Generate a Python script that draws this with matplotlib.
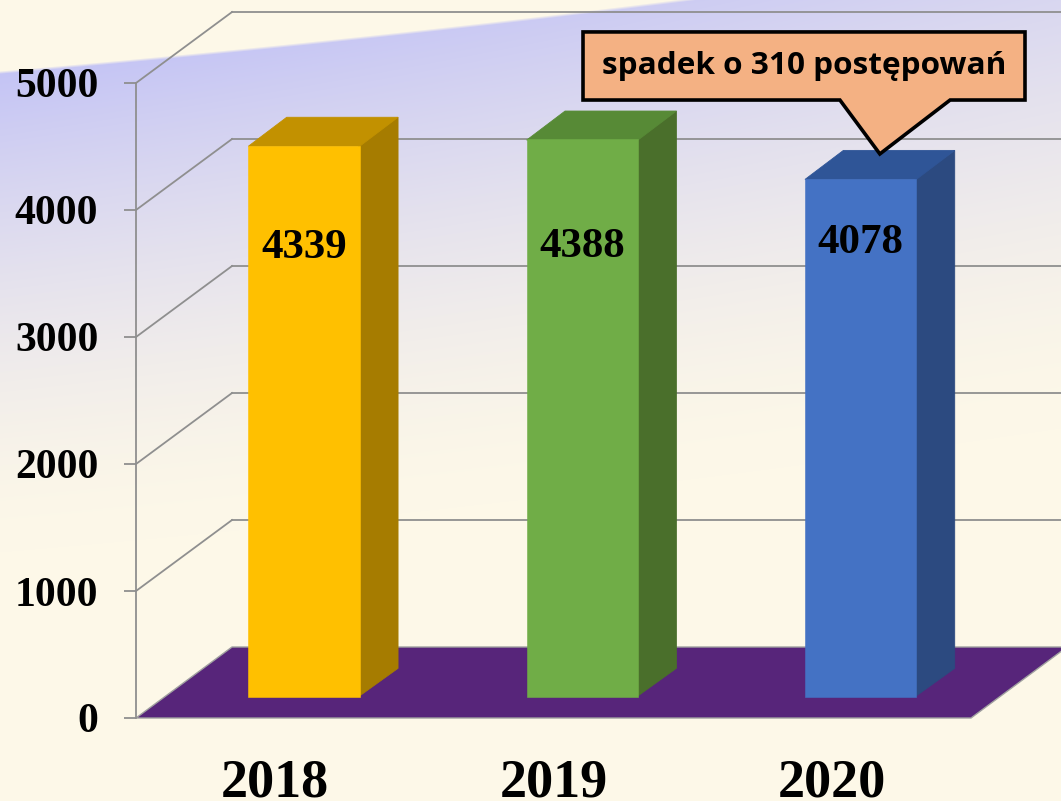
import numpy as np
import matplotlib
matplotlib.use("Agg")
import matplotlib.pyplot as plt
from matplotlib.patches import Polygon
from matplotlib import transforms

# ---- data ----
years = ["2018", "2019", "2020"]
values = [4339, 4388, 4078]
yticks = [0, 1000, 2000, 3000, 4000, 5000]
front_colors = ["#FFC000", "#70AD47", "#4472C4"]
top_colors = ["#C29100", "#578A36", "#2F5597"]
side_colors = ["#A67C00", "#4A6F2B", "#2C4A80"]
callout_text = "spadek o 310 postępowań"

W, H = 1061, 801
fig = plt.figure(figsize=(W / 100, H / 100), dpi=100)

# ---- background ----
bg = fig.add_axes([0, 0, 1, 1])
yy, xx = np.mgrid[0:H, 0:W].astype(float)
yb = 72 - 0.085 * xx - 0.00003 * xx ** 2
d = yy - yb
t = np.clip(1 - d / 480, 0, 1) ** 1.5 * (1 - 0.25 * xx / W)
s = np.clip(d / 3 + 0.5, 0, 1)
cream = np.array([253, 248, 232]) / 255
lav = np.array([196, 196, 245]) / 255
img = cream[None, None, :] + (s * t)[..., None] * (lav - cream)[None, None, :]
bg.imshow(img, aspect="auto", extent=(0, W, H, 0))
bg.set_axis_off()

# ---- main axes ----
ax = fig.add_axes([136 / W, 1 - 718 / H, 835 / W, 635 / H])
ax.set_xlim(-0.5, 2.5)
ax.set_ylim(0, 5000)
ax.patch.set_visible(False)
for sp in ["top", "right", "bottom"]:
    ax.spines[sp].set_visible(False)
grid_c = "#8F8F8F"
ax.spines["left"].set_color(grid_c)
ax.spines["left"].set_linewidth(1.3)

DX = 0.345   # depth offset in category units
DY = 559.0   # depth offset in value units

# walls grid
for v in yticks[1:]:
    ax.plot([-0.5, -0.5 + DX], [v, v + DY], color=grid_c, lw=1.3, clip_on=False, zorder=1)
    ax.plot([-0.5 + DX, 2.5 + DX + 0.2], [v + DY, v + DY], color=grid_c, lw=1.3,
            clip_on=False, zorder=1)

# floor
floor = Polygon([(-0.5, 0), (2.5, 0), (2.5 + DX, DY), (-0.5 + DX, DY)], closed=True,
                facecolor="#57257A", edgecolor="#A0A0A0", lw=1.0, clip_on=False, zorder=2)
ax.add_patch(floor)

# bars
x = np.arange(len(years))
f0 = 0.3
fd = 0.4
bw = 0.4
base = f0 * DY
for i, v in enumerate(values):
    x0 = x[i] + f0 * DX - bw / 2
    x1 = x[i] + f0 * DX + bw / 2
    top = base + v
    side = Polygon([(x1 - 0.004, base), (x1 + fd * DX, base + fd * DY),
                    (x1 + fd * DX, top + fd * DY), (x1 - 0.004, top)],
                   facecolor=side_colors[i], edgecolor=side_colors[i], lw=0.6,
                   clip_on=False, zorder=3)
    topf = Polygon([(x0, top - 5), (x1, top - 5), (x1 + fd * DX, top + fd * DY),
                    (x0 + fd * DX, top + fd * DY)],
                   facecolor=top_colors[i], edgecolor=top_colors[i], lw=0.6,
                   clip_on=False, zorder=3)
    ax.add_patch(side)
    ax.add_patch(topf)
ax.bar(x + f0 * DX, values, width=bw, bottom=base, color=front_colors,
       edgecolor=front_colors, linewidth=0.4, zorder=4, clip_on=False)

# value labels
label_y = [3622, 3630, 3661]
for i, v in enumerate(values):
    ax.text(x[i] + f0 * DX, label_y[i], str(v), ha="center", va="baseline",
            fontsize=31, fontweight="bold", family="Liberation Serif", zorder=6)

# y ticks
ax.set_yticks(yticks)
ax.set_yticklabels([str(v) for v in yticks], fontsize=30, fontweight="bold",
                   family="Liberation Serif")
ax.tick_params(axis="y", length=8.6, width=1.3, color=grid_c, pad=18.5)
ax.set_xticks([])

# year labels
trans = transforms.blended_transform_factory(ax.transData, ax.transAxes)
for i, yr in enumerate(years):
    ax.text(x[i], -0.124, yr, transform=trans, ha="center", va="baseline",
            fontsize=39, fontweight="bold", family="Liberation Serif")

# callout
tip = (2 + 0.5 * DX, values[2] + base + 0.35 * DY)
bx0, bx1 = 1.106, 2.694
by0, by1 = 4866, 5402
px0, px1 = 2.029, 2.425
shape = Polygon([(bx0, by0), (bx0, by1), (bx1, by1), (bx1, by0), (px1, by0), tip,
                 (px0, by0)], closed=True, facecolor="#F4B183", edgecolor="black",
                lw=2.6, joinstyle="miter", clip_on=False, zorder=7)
ax.add_patch(shape)
txt = ax.text((bx0 + bx1) / 2, (by0 + by1) / 2, callout_text, ha="center",
              va="center", fontsize=20, fontweight="bold", family="Open Sans", zorder=8)
fig.canvas.draw()
wpx = txt.get_window_extent().width
txt.set_fontsize(20 * 403 / wpx)

fig.savefig("out.png", dpi=100)
